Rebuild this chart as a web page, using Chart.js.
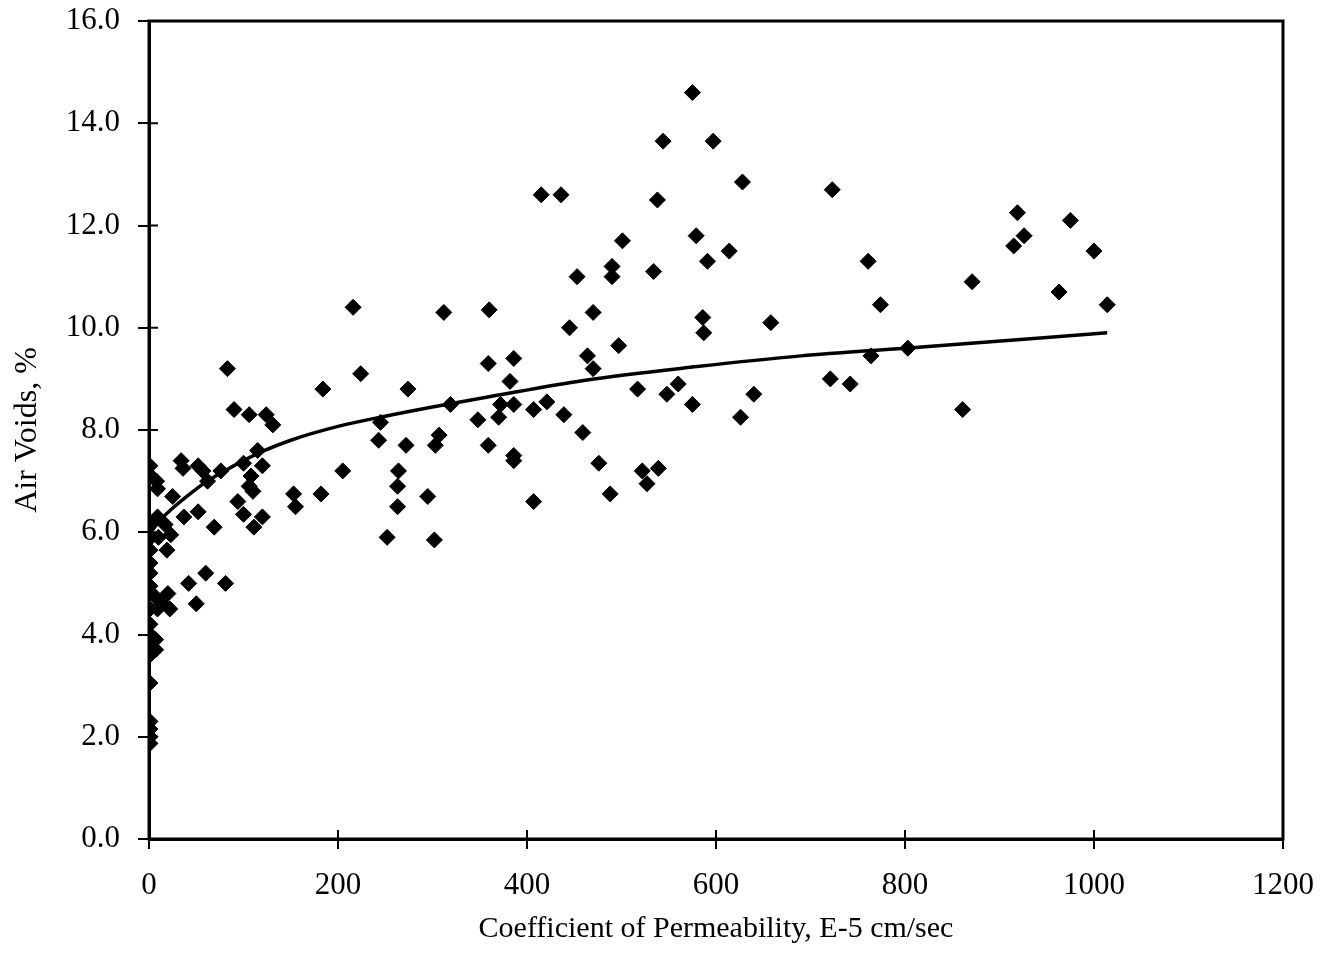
<!DOCTYPE html>
<html>
<head>
<meta charset="utf-8">
<script src="https://cdn.jsdelivr.net/npm/chart.js@4.4.1/dist/chart.umd.min.js"></script>
<style>
  html, body { margin: 0; padding: 0; background: #fff; }
  #wrap { width: 1327px; height: 963px; }
</style>
</head>
<body>
<div id="wrap"><canvas id="chart"></canvas></div>
<script>
const permeability = [
  1, 2, 1, 2, 1, 1, 1, 1, 1, 1, 1, 1, 1, 1, 1, 1, 1, 1,
  8, 9, 25, 9, 17, 10, 23, 19, 6, 20, 14, 9, 22, 7, 7,
  34, 36, 52, 57, 62, 76, 37, 52, 69, 60, 42, 81, 50,
  90, 106, 124, 131, 115, 100, 120, 108, 106, 110, 94, 100, 120, 111, 153, 155, 83,
  182, 184, 205, 216, 224, 243, 245, 252, 263, 263, 264, 272, 274, 295, 302, 303, 307, 312, 319,
  348, 359, 359, 360, 370, 372, 382, 386, 386, 386, 386, 407, 407, 415, 421, 436, 439, 445,
  453, 459, 464, 470, 470, 476, 488, 490, 490, 497, 501, 517, 522, 527, 534, 538, 539, 544,
  548, 560, 575, 575, 579, 586, 587, 591, 597, 614, 626, 628, 640, 658,
  721, 723, 742, 761, 764, 774, 803, 861, 871, 915, 919, 926, 963, 975, 1000, 1014
];
const airVoids = [
  7.3, 7.1, 6.15, 5.9, 5.65, 5.4, 5.2, 4.95, 4.5, 4.2, 4.0, 3.75, 3.6, 3.05, 2.3, 2.15, 2.0, 1.87,
  7.0, 6.85, 6.7, 6.3, 6.15, 5.9, 5.95, 5.65, 4.75, 4.8, 4.6, 4.5, 4.5, 3.9, 3.7,
  7.4, 7.25, 7.3, 7.2, 7.0, 7.2, 6.3, 6.4, 6.1, 5.2, 5.0, 5.0, 4.6,
  8.4, 8.3, 8.3, 8.1, 7.6, 7.35, 7.3, 7.1, 6.9, 6.8, 6.6, 6.35, 6.3, 6.1, 6.75, 6.5, 9.2,
  6.75, 8.8, 7.2, 10.4, 9.1, 7.8, 8.15, 5.9, 6.5, 6.9, 7.2, 7.7, 8.8, 6.7, 5.85, 7.7, 7.9, 10.3, 8.5,
  8.2, 9.3, 7.7, 10.35, 8.25, 8.5, 8.95, 8.5, 9.4, 7.5, 7.4, 8.4, 6.6, 12.6, 8.55, 12.6, 8.3, 10.0,
  11.0, 7.95, 9.45, 10.3, 9.2, 7.35, 6.75, 11.2, 11.0, 9.65, 11.7, 8.8, 7.2, 6.95, 11.1, 12.5, 7.25, 13.65,
  8.7, 8.9, 14.6, 8.5, 11.8, 10.2, 9.9, 11.3, 13.65, 11.5, 8.25, 12.85, 8.7, 10.1,
  9.0, 12.7, 8.9, 11.3, 9.45, 10.45, 9.6, 8.4, 10.9, 11.6, 12.25, 11.8, 10.7, 12.1, 11.5, 10.45
];

// trend curve
const fitX = [2, 10, 22, 40, 60, 80, 100, 120, 150, 200, 250, 300, 360, 460, 580, 690, 800, 1014];
const fitY = [6.0, 6.2, 6.42, 6.7, 6.98, 7.2, 7.4, 7.58, 7.8, 8.07, 8.27, 8.45, 8.65, 8.97, 9.24, 9.45, 9.6, 9.9];

const xTicks = [0, 200, 400, 600, 800, 1000, 1200];
const yTicks = [0, 2, 4, 6, 8, 10, 12, 14, 16];

const SERIF = "'Liberation Serif', 'Times New Roman', serif";

// frame round the plot and the inner half of each cross tick
const framePlugin = {
  id: "frame",
  afterDraw(chart) {
    const { ctx, chartArea: a, scales } = chart;
    ctx.save();
    ctx.strokeStyle = "#000";
    ctx.lineWidth = 3;
    ctx.strokeRect(a.left, a.top, a.right - a.left, a.bottom - a.top);
    ctx.lineWidth = 2;
    ctx.beginPath();
    scales.x.ticks.forEach((t, i) => {
      const px = scales.x.getPixelForTick(i);
      ctx.moveTo(px, a.bottom);
      ctx.lineTo(px, a.bottom - 9);
    });
    scales.y.ticks.forEach((t, i) => {
      const py = scales.y.getPixelForTick(i);
      ctx.moveTo(a.left, py);
      ctx.lineTo(a.left + 9, py);
    });
    ctx.stroke();
    ctx.restore();
  },
};

new Chart(document.getElementById("chart"), {
  type: "scatter",
  data: {
    datasets: [
      {
        label: "fit",
        data: fitX.map((x, i) => ({ x, y: fitY[i] })),
        showLine: true,
        borderColor: "#000",
        borderWidth: 3.5,
        pointRadius: 0,
        cubicInterpolationMode: "monotone",
        order: 2,
      },
      {
        label: "Air Voids",
        data: permeability.map((x, i) => ({ x, y: airVoids[i] })),
        pointStyle: "rectRot",
        pointRadius: 8,
        backgroundColor: "#000",
        borderColor: "#000",
        borderWidth: 1,
        order: 1,
      },
    ],
  },
  options: {
    responsive: true,
    maintainAspectRatio: false,
    animation: false,
    layout: { padding: { left: 0, top: 21, right: 44, bottom: 0 } },
    plugins: {
      legend: { display: false },
      tooltip: { enabled: false },
    },
    scales: {
      x: {
        type: "linear",
        min: 0,
        max: 1200,
        afterBuildTicks: (scale) => {
          scale.ticks = xTicks.map((v) => ({ value: v }));
        },
        afterFit: (scale) => {
          scale.height = 124;
          scale.paddingLeft = 0;
          scale.paddingRight = 0;
        },
        grid: {
          drawOnChartArea: false,
          color: "#000",
          lineWidth: 2,
          tickLength: 10,
        },
        border: { display: true, color: "#000", width: 3 },
        ticks: {
          color: "#000",
          padding: 18,
          font: { family: SERIF, size: 31 },
          maxRotation: 0,
          callback: (v) => String(v),
        },
        title: {
          display: true,
          text: "Coefficient of Permeability, E-5 cm/sec",
          color: "#000",
          font: { family: SERIF, size: 30 },
          padding: { top: 0, bottom: 16 },
        },
      },
      y: {
        type: "linear",
        min: 0,
        max: 16,
        afterBuildTicks: (scale) => {
          scale.ticks = yTicks.map((v) => ({ value: v }));
        },
        afterFit: (scale) => {
          scale.width = 149;
          scale.paddingTop = 0;
          scale.paddingBottom = 0;
        },
        grid: {
          drawOnChartArea: false,
          color: "#000",
          lineWidth: 2,
          tickLength: 11,
        },
        border: { display: true, color: "#000", width: 3 },
        ticks: {
          color: "#000",
          padding: 18,
          font: { family: SERIF, size: 31 },
          callback: (v) => Number(v).toFixed(1),
        },
        title: {
          display: true,
          text: "Air Voids, %",
          color: "#000",
          font: { family: SERIF, size: 32 },
          padding: { top: 8, bottom: 0 },
        },
      },
    },
  },
  plugins: [framePlugin],
});
</script>
</body>
</html>
